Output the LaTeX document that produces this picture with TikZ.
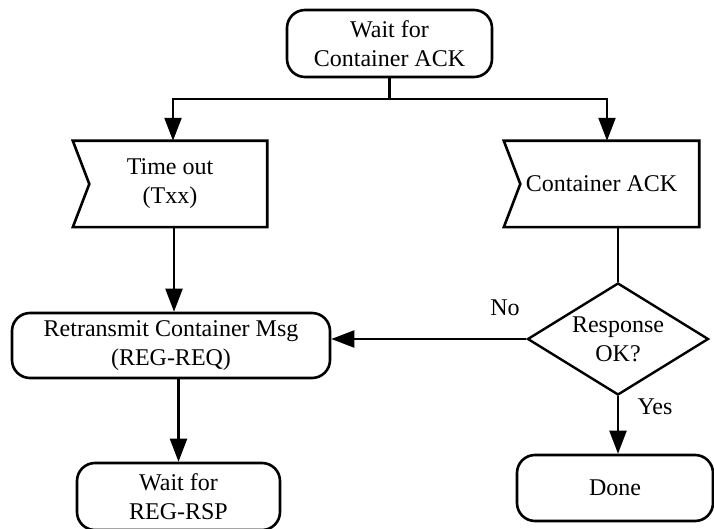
\documentclass[tikz,border=0pt]{standalone}
\usepackage{fontspec}
\setmainfont{Liberation Serif}
\usetikzlibrary{arrows.meta,shapes.geometric,calc}
\begin{document}
\begin{tikzpicture}[x=1pt,y=-1pt,
  every node/.style={font=\fontsize{24}{29}\selectfont, align=center, inner sep=0pt},
  terminal/.style={draw, line width=2.6pt, rounded corners=18pt},
  sigbox/.style={draw=none},
  outline/.style={draw, line width=2.6pt, line join=miter},
  decision/.style={diamond, draw, line width=2.4pt, aspect=1.6,
                   minimum width=181pt, minimum height=112pt},
  conn/.style={line width=2.2pt},
  flow/.style={conn, -{Triangle[length=23pt,width=17pt]}}]
\useasboundingbox (0,0) rectangle (714,529);

% states, inputs and the decision
\node[terminal, minimum width=205pt, minimum height=67pt] (wait1) at (389.5,43.5) {Wait for\\Container ACK};
\node[sigbox, minimum width=194pt, minimum height=86pt] (timeout) at (170,184) {Time out\\(Txx)};
\node[sigbox, minimum width=195pt, minimum height=86pt] (ack) at (601.5,184) {Container ACK};
\node[terminal, minimum width=318pt, minimum height=65pt] (retx) at (171,345.5) {Retransmit Container Msg\\(REG-REQ)};
\node[decision] (ok) at (618,339) {Response\\OK?};
\node[terminal, minimum width=203pt, minimum height=67pt] (wait2) at (178.5,496.5) {Wait for\\REG-RSP};
\node[terminal, minimum width=196pt, minimum height=66pt] (done) at (615,488) {Done};

% input-signal outlines with the notch on the left
\foreach \n in {timeout,ack}
  \draw[outline] (\n.north west) -- (\n.north east) -- (\n.south east)
    -- (\n.south west) -- ($(\n.west)+(16.5,0)$) -- cycle;

% branch labels
\node (nolbl) at (505,308) {No};
\node (yeslbl) at (655,407) {Yes};

% connectors
\coordinate (split) at ($(wait1.south)+(0,21)$);
\coordinate (tin) at ($(timeout.north)+(3,0)$);
\coordinate (ain) at ($(ack.north)+(5.5,0)$);
\draw[conn] (wait1.south) -- (split);
\draw[flow] (split) -| (tin);
\draw[flow] (split) -| (ain);
\coordinate (tout) at ($(timeout.south)+(4,0)$);
\draw[flow] (tout) -- (tout |- retx.north);
\draw[conn] (ok.north |- ack.south) -- (ok.north);
\draw[flow] (ok.west) -- (ok.west -| retx.east);
\draw[flow] (ok.south) -- (ok.south |- done.north);
\draw[flow] (wait2.north |- retx.south) -- (wait2.north);
\end{tikzpicture}
\end{document}
